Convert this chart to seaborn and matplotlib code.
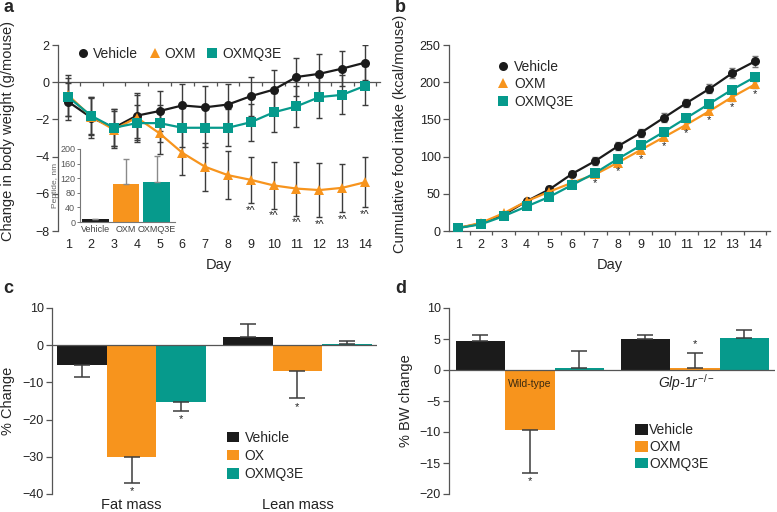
import matplotlib
matplotlib.use('Agg')
import matplotlib.pyplot as plt
from matplotlib.lines import Line2D
from matplotlib.patches import Patch
import numpy as np
import pandas as pd
import seaborn as sns

# ---- data ----
days = list(range(1, 15))
groups = ['Vehicle', 'OXM', 'OXMQ3E']
colors = ['#1b1b1b', '#f7941d', '#069a8c']

# a: change in body weight (g/mouse)
bw_vehicle = [-1.05, -1.9, -2.45, -1.8, -1.55, -1.25, -1.35, -1.2, -0.75, -0.4, 0.28, 0.45, 0.73, 1.05]
bw_vehicle_err = [1.0, 1.1, 1.0, 1.2, 1.1, 1.15, 1.15, 1.1, 1.05, 1.05, 1.0, 1.05, 0.95, 0.95]
bw_oxm = [-0.7, -1.85, -2.55, -1.9, -2.75, -3.8, -4.55, -5.0, -5.25, -5.55, -5.72, -5.8, -5.68, -5.38]
bw_oxm_err = [1.1, 1.0, 1.0, 1.2, 1.1, 1.2, 1.3, 1.3, 1.25, 1.25, 1.45, 1.45, 1.3, 1.35]
bw_q3e = [-0.8, -1.8, -2.45, -2.2, -2.2, -2.45, -2.45, -2.45, -2.15, -1.62, -1.3, -0.8, -0.68, -0.2]
bw_q3e_err = [1.0, 1.0, 1.0, 1.0, 1.0, 1.05, 1.05, 1.0, 1.0, 1.05, 1.1, 1.1, 1.05, 1.05]
bw_sig_days = [9, 10, 11, 12, 13, 14]

# a inset: peptide, nm
peptide = [8, 103, 110]
peptide_err = [0, 70, 72]

# b: cumulative food intake (kcal/mouse)
food_vehicle = [4, 10, 22, 40, 56, 77, 94, 114, 132, 152, 172, 191, 212, 228]
food_vehicle_err = [2, 2, 3, 3, 4, 4, 5, 5, 5, 6, 6, 6, 7, 7]
food_oxm = [4, 11, 24, 40, 53, 65, 76, 92, 109, 126, 143, 161, 180, 197]
food_oxm_err = [2, 2, 2, 3, 3, 3, 4, 4, 4, 4, 4, 4, 5, 5]
food_q3e = [4, 9, 20, 33, 46, 62, 78, 97, 115, 133, 152, 171, 190, 207]
food_q3e_err = [2, 2, 2, 3, 3, 3, 4, 4, 4, 4, 4, 5, 5, 5]
food_sig_days = [7, 8, 9, 10, 11, 12, 13, 14]

# c: % change in body composition
tissues = ['Fat mass', 'Lean mass']
comp_groups = ['Vehicle', 'OX', 'OXMQ3E']
comp_vehicle = [-5.3, 2.2]
comp_vehicle_err = [3.3, 3.6]
comp_ox = [-30.0, -7.0]
comp_ox_err = [7.0, 7.2]
comp_q3e = [-15.3, 0.4]
comp_q3e_err = [2.3, 0.8]
comp_sig = [[False, True, True], [False, True, False]]

# d: % BW change by genotype
genotypes = ['Wild-type', 'Glp-1r-/-']
bwc_vehicle = [4.7, 5.0]
bwc_vehicle_err = [1.0, 0.7]
bwc_oxm = [-9.7, 0.4]
bwc_oxm_err = [6.9, 2.3]
bwc_q3e = [0.3, 5.2]
bwc_q3e_err = [2.7, 1.3]
bwc_sig = [[False, True, False], [False, True, False]]

sns.set_theme(style='ticks')
plt.rcParams['font.family'] = ['Liberation Sans', 'DejaVu Sans']
plt.rcParams['mathtext.fontset'] = 'custom'
plt.rcParams['mathtext.it'] = 'Liberation Sans:italic'
plt.rcParams['mathtext.rm'] = 'Liberation Sans'

SPINE = '#555555'
ERR = '#3c3c3c'
TICK_FS = 9
LAB_FS = 10.5
LEG_FS = 10
markers = {'Vehicle': 'o', 'OXM': '^', 'OXMQ3E': 's'}
pal = dict(zip(groups, colors))

W, H = 777, 512


def px_axes(left, top, right, bottom):
    return [left / W, (H - bottom) / H, (right - left) / W, (bottom - top) / H]


def style_left(ax):
    for s in ['top', 'right', 'bottom']:
        ax.spines[s].set_visible(False)
    ax.spines['left'].set_color(SPINE)
    ax.spines['left'].set_linewidth(0.9)
    ax.tick_params(axis='y', colors='#222222', labelsize=TICK_FS, length=4,
                   width=0.9, color=SPINE, pad=2)


def long_df(x, series, xname, yname):
    return pd.DataFrame({
        xname: list(x) * len(series),
        yname: np.concatenate([np.asarray(s, dtype=float) for s in series]),
        'Group': np.repeat(groups, len(x)),
    })


def panel_letter(letter, x_px, base_px):
    fig.text(x_px / W, 1 - base_px / H, letter, fontsize=13, fontweight='bold',
             va='baseline', ha='left')


fig = plt.figure(figsize=(W / 100, H / 100), dpi=100)

# ---------------- panel a ----------------
ax = fig.add_axes(px_axes(58, 45, 380, 231))
bw = [bw_vehicle, bw_oxm, bw_q3e]
bw_err = [bw_vehicle_err, bw_oxm_err, bw_q3e_err]
for g, m, e in zip(groups, bw, bw_err):
    ax.errorbar(days, m, yerr=e, fmt='none', ecolor=ERR, elinewidth=1.0,
                capsize=2.5, capthick=1.0, zorder=2)
df_a = long_df(days, bw, 'Day', 'Change')
sns.lineplot(data=df_a, x='Day', y='Change', hue='Group', style='Group',
             markers=markers, dashes=False, palette=pal, hue_order=groups,
             linewidth=1.6, markersize=6.5, markeredgewidth=0, legend=False,
             ax=ax, zorder=3)
ax.set_xlim(0.55, 14.66)
ax.set_ylim(-8, 2)
ax.set_yticks([2, 0, -2, -4, -6, -8])
style_left(ax)
ax.set_xticks(days)
ax.tick_params(axis='x', length=0, labelsize=TICK_FS, pad=6, colors='#222222')
ax.set_xlabel('Day', fontsize=LAB_FS, labelpad=5)
ax.set_ylabel('Change in body weight (g/mouse)', fontsize=LAB_FS)
ax.yaxis.set_label_coords(-0.133, 0.535)
# zero line with ticks between days
sec = ax.secondary_xaxis(0.8)
sec.set_alignment('bottom')
sec.set_xticks(np.arange(0.5, 15, 1))
sec.tick_params(length=3, width=0.9, color=SPINE, labelbottom=False, labeltop=False)
sec.spines['bottom'].set_color(SPINE)
sec.spines['bottom'].set_linewidth(0.9)
for d in bw_sig_days:
    i = days.index(d)
    ax.text(d, bw_oxm[i] - bw_oxm_err[i] - 0.42, '*^', ha='center', va='center',
            fontsize=8, color='#222222')
handles = [Line2D([], [], color=c, marker=markers[g], linestyle='none', markersize=6.5,
                  markeredgewidth=0) for g, c in zip(groups, colors)]
ax.legend(handles, groups, ncol=3, loc='upper left', bbox_to_anchor=(0.035, 1.02),
          frameon=False, fontsize=LEG_FS, handletextpad=0.1, columnspacing=0.6,
          handlelength=1.2, borderaxespad=0)
panel_letter('a', 3, 12)

# inset
axi = fig.add_axes(px_axes(80, 149, 175, 222))
df_i = pd.DataFrame({'Group': groups, 'Peptide': peptide})
sns.barplot(data=df_i, x='Group', y='Peptide', hue='Group', palette=pal, order=groups,
            saturation=1, width=0.87, errorbar=None, legend=False, linewidth=0, ax=axi)
axi.errorbar(range(3), peptide, yerr=[np.zeros(3), peptide_err], fmt='none',
             ecolor='#8a8a8a', elinewidth=1.0, capsize=2, capthick=1.0)
axi.set_xlim(-0.5, 2.6)
axi.set_ylim(0, 200)
axi.set_yticks(range(0, 201, 40))
axi.patch.set_alpha(0)
for s in ['top', 'right']:
    axi.spines[s].set_visible(False)
for s in ['left', 'bottom']:
    axi.spines[s].set_color('#777777')
    axi.spines[s].set_linewidth(0.8)
axi.tick_params(axis='y', labelsize=6.5, length=2.5, width=0.7, color='#777777',
                colors='#555555', pad=1)
axi.tick_params(axis='x', labelsize=6.5, length=0, pad=2, colors='#444444')
axi.set_xlabel('')
axi.set_ylabel('Peptide, nm', fontsize=6, color='#666666', labelpad=1)

# ---------------- panel b ----------------
ax = fig.add_axes(px_axes(449, 45, 770, 231))
food = [food_vehicle, food_oxm, food_q3e]
food_err = [food_vehicle_err, food_oxm_err, food_q3e_err]
for g, m, e in zip(groups, food, food_err):
    ax.errorbar(days, m, yerr=e, fmt='none', ecolor='#777777', elinewidth=1.0,
                capsize=2, capthick=1.0, zorder=2)
df_b = long_df(days, food, 'Day', 'Intake')
sns.lineplot(data=df_b, x='Day', y='Intake', hue='Group', style='Group',
             markers=markers, dashes=False, palette=pal, hue_order=groups,
             linewidth=1.6, markersize=6.5, markeredgewidth=0, legend=False,
             ax=ax, zorder=3)
ax.set_xlim(0.6, 14.66)
ax.set_ylim(0, 250)
ax.set_yticks(range(0, 251, 50))
style_left(ax)
ax.spines['bottom'].set_visible(True)
ax.spines['bottom'].set_color(SPINE)
ax.spines['bottom'].set_linewidth(0.9)
ax.set_xticks(days)
ax.set_xticks(np.arange(1.5, 14.6, 1), minor=True)
ax.tick_params(axis='x', which='major', length=0, labelsize=TICK_FS, pad=6, colors='#222222')
ax.tick_params(axis='x', which='minor', length=3, width=0.9, color=SPINE)
ax.set_xlabel('Day', fontsize=LAB_FS, labelpad=5)
ax.set_ylabel('Cumulative food intake (kcal/mouse)', fontsize=LAB_FS)
ax.yaxis.set_label_coords(-0.131, 0.52)
for d in food_sig_days:
    i = days.index(d)
    ax.text(d, food_oxm[i] - food_oxm_err[i] - 8, '*', ha='center', va='center',
            fontsize=8, color='#222222')
ax.legend(handles, groups, loc='upper left', bbox_to_anchor=(0.13, 0.95),
          frameon=False, fontsize=LEG_FS, handletextpad=0.3, labelspacing=0.25,
          handlelength=1.0, borderaxespad=0)
panel_letter('b', 395, 12)


def grouped_bars(ax, cats, series, errs, sig, sig_off):
    df = pd.DataFrame({
        'Cat': np.tile(cats, len(series)),
        'Value': np.concatenate([np.asarray(s, dtype=float) for s in series]),
        'Group': np.repeat(groups, len(cats)),
    })
    sns.barplot(data=df, x='Cat', y='Value', hue='Group', hue_order=groups,
                order=cats, palette=pal, saturation=1, width=0.9, errorbar=None,
                legend=False, linewidth=0, ax=ax, zorder=2)
    for j, (vals, ev) in enumerate(zip(series, errs)):
        for i, (v, e) in enumerate(zip(vals, ev)):
            x = i + (j - 1) * 0.3
            lo, hi = (e, 0) if v < 0 else (0, e)
            ax.errorbar([x], [v], yerr=[[lo], [hi]], fmt='none', ecolor=ERR,
                        elinewidth=1.1, capsize=6, capthick=1.1, zorder=3)
            if sig[i][j]:
                y = v - e - sig_off if v < 0 else v + e + sig_off * 1.2
                ax.text(x, y, '*', ha='center', va='center',
                        fontsize=8, color='#222222')
    ax.axhline(0, color=SPINE, lw=0.9, zorder=4)


# ---------------- panel c ----------------
ax = fig.add_axes(px_axes(52, 308, 377, 494))
grouped_bars(ax, tissues, [comp_vehicle, comp_ox, comp_q3e],
             [comp_vehicle_err, comp_ox_err, comp_q3e_err], comp_sig, 2.3)
ax.set_xlim(-0.48, 1.48)
ax.set_ylim(-40, 10)
ax.set_yticks(range(-40, 11, 10))
style_left(ax)
ax.tick_params(axis='x', length=0, labelsize=LAB_FS, pad=3, colors='#222222')
ax.set_xlabel('')
ax.set_ylabel('% Change', fontsize=LAB_FS)
ax.yaxis.set_label_coords(-0.114, 0.5)
bar_handles = [Patch(facecolor=c, edgecolor='none') for c in colors]
ax.legend(bar_handles, comp_groups, loc='upper left', bbox_to_anchor=(0.52, 0.37),
          frameon=False, fontsize=LEG_FS, handletextpad=0.4, labelspacing=0.3,
          handlelength=0.9, handleheight=0.8, borderaxespad=0)
panel_letter('c', 3, 293)

# ---------------- panel d ----------------
ax = fig.add_axes(px_axes(449, 308, 775, 494))
grouped_bars(ax, genotypes, [bwc_vehicle, bwc_oxm, bwc_q3e],
             [bwc_vehicle_err, bwc_oxm_err, bwc_q3e_err], bwc_sig, 1.3)
ax.set_xlim(-0.49, 1.485)
ax.set_ylim(-20, 10)
ax.set_yticks(range(-20, 11, 5))
style_left(ax)
ax.set_xticks([])
ax.set_xlabel('')
ax.set_ylabel('% BW change', fontsize=LAB_FS)
ax.yaxis.set_label_coords(-0.11, 0.5)
ax.text(0, -2.3, 'Wild-type', ha='center', va='center', fontsize=7.5, color='#3a2a10', zorder=5)
ax.text(0.95, -2.1, r'$\mathit{Glp}$-$\mathit{1r}^{-/-}$', ha='center', va='center',
        fontsize=10, style='italic', color='#222222', zorder=5)
ax.legend(bar_handles, groups, loc='upper left', bbox_to_anchor=(0.555, 0.41),
          frameon=False, fontsize=LEG_FS, handletextpad=0.1, labelspacing=0.2,
          handlelength=0.9, handleheight=0.8, borderaxespad=0)
panel_letter('d', 395, 293)

fig.savefig('out.png', dpi=100)
